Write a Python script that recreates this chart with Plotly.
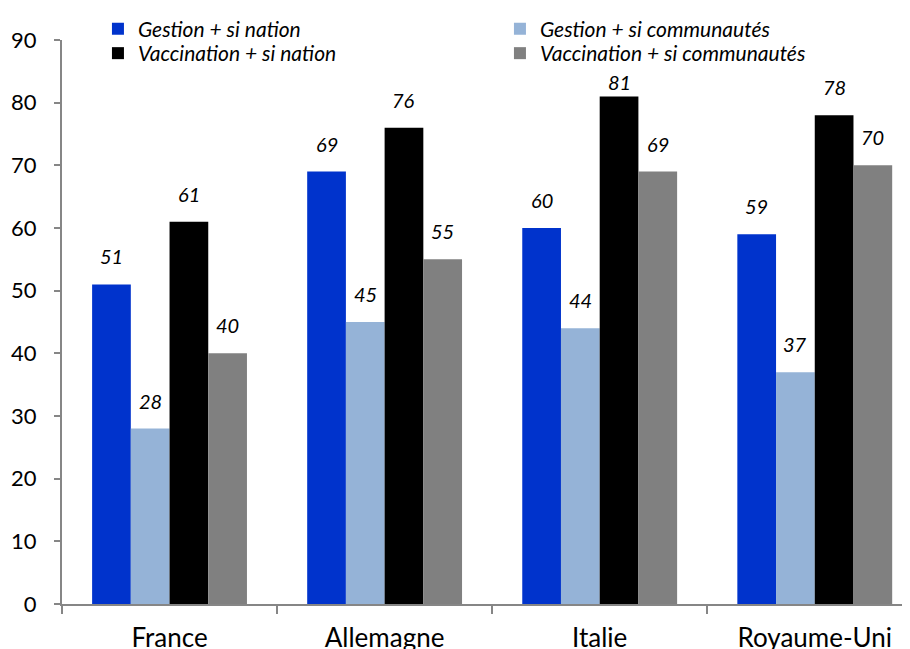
import plotly.graph_objects as go

categories = ["France", "Allemagne", "Italie", "Royaume-Uni"]
series_names = ["Gestion + si nation", "Gestion + si communautés",
                "Vaccination + si nation", "Vaccination + si communautés"]
gestion_nation = [51, 69, 60, 59]
gestion_comm = [28, 45, 44, 37]
vacc_nation = [61, 76, 81, 78]
vacc_comm = [40, 55, 69, 70]
colors = ["#0033CC", "#95B3D7", "#000000", "#808080"]
legend_rows = ["legend", "legend", "legend2", "legend2"]

FONT = "Lato"
series = [gestion_nation, gestion_comm, vacc_nation, vacc_comm]

# the page body adds an 8px offset, so the figure is laid out in its own coordinates
W, H = 910, 649
ML, MR, MT, MB = 54, 0, 32, 53
X_RANGE = [-0.5, 3.48]
Y_RANGE = [0, 90]
BARGAP = 0.28
LEGEND_BOTTOM_PX = 68    # labels are kept below the legend, like the original
LABEL_H = 20
LABEL_GAP = 14

plot_w = W - ML - MR
plot_h = H - MT - MB
cat_px = plot_w / (X_RANGE[1] - X_RANGE[0])
bar_px = cat_px * (1 - BARGAP) / len(series)

fig = go.Figure()
for i, (name, vals, col, lg) in enumerate(zip(series_names, series, colors, legend_rows)):
    fig.add_trace(go.Bar(
        x=categories, y=vals, name=name, legend=lg,
        marker=dict(color=col, line=dict(width=0)),
    ))
    shift = (i - (len(series) - 1) / 2) * bar_px
    for c, v in zip(categories, vals):
        top_px = MT + (Y_RANGE[1] - v) / (Y_RANGE[1] - Y_RANGE[0]) * plot_h
        ys = min(LABEL_GAP, top_px - LABEL_H - LEGEND_BOTTOM_PX)
        fig.add_annotation(
            x=c, y=v, xref="x", yref="y", text=f"<i>{v}</i>", showarrow=False,
            xanchor="center", yanchor="bottom", xshift=shift, yshift=ys,
            font=dict(family=FONT, size=20, color="black"),
        )

legend_style = dict(
    orientation="h", x=0.042, xanchor="left", yanchor="top",
    entrywidth=357, entrywidthmode="pixels", itemwidth=30,
    font=dict(family=FONT, size=21, color="black", style="italic"),
    bgcolor="rgba(0,0,0,0)", tracegroupgap=0,
)
fig.update_layout(
    width=W, height=H,
    margin=dict(l=ML, r=MR, t=MT, b=MB),
    paper_bgcolor="white", plot_bgcolor="white",
    barmode="group", bargap=BARGAP, bargroupgap=0,
    font=dict(family=FONT, size=20, color="black"),
    legend=dict(legend_style, y=1 + (MT - 0.5) / plot_h),
    legend2=dict(legend_style, y=1 + (MT - 25) / plot_h),
    showlegend=True,
)
fig.update_xaxes(
    range=X_RANGE, showline=True, linecolor="#868686", linewidth=2,
    ticks="outside", tickson="boundaries", ticklen=8, tickcolor="#868686", tickwidth=2,
    tickfont=dict(family=FONT, size=26, color="black"), ticklabelstandoff=10,
    showgrid=False, zeroline=False, automargin=False,
)
fig.update_yaxes(
    range=Y_RANGE, dtick=10, showline=True, linecolor="#868686", linewidth=2,
    ticks="outside", ticklen=6, tickcolor="#868686", tickwidth=2,
    tickfont=dict(family=FONT, size=22, color="black"), ticklabelstandoff=13,
    showgrid=False, zeroline=False, automargin=False,
)

fig.write_html("out.html")
